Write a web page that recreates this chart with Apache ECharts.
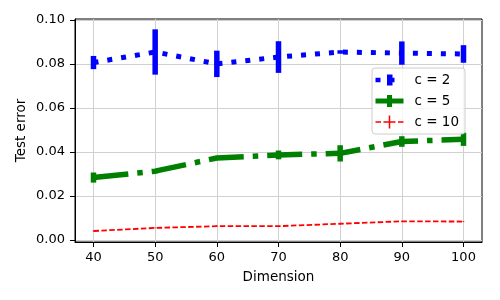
<!DOCTYPE html>
<html>
<head>
<meta charset="utf-8">
<script src="https://cdn.jsdelivr.net/npm/echarts@6/dist/echarts.min.js"></script>
<style>
html,body{margin:0;padding:0;background:#fff;}
#chart{width:500px;height:300px;}
</style>
</head>
<body>
<div id="chart"></div>
<script>
const dims = [40, 50, 60, 70, 80, 90, 100];
const c2Mean = [0.0807, 0.0855, 0.0801, 0.0832, 0.0855, 0.0850, 0.0846];
const c2Err  = [0.0030, 0.0103, 0.0060, 0.0072, 0.0008, 0.0053, 0.0040];
const c5Mean = [0.0284, 0.0313, 0.0373, 0.0387, 0.0394, 0.0448, 0.0458];
const c5Err  = [0.0023, 0.0010, 0.0004, 0.0020, 0.0037, 0.0024, 0.0030];
const c10Mean = [0.0041, 0.0055, 0.0063, 0.0063, 0.0074, 0.0085, 0.0084];
const c10Err  = [0.0002, 0.0002, 0.0002, 0.0002, 0.0002, 0.0002, 0.0002];
const xTicks = [40, 50, 60, 70, 80, 90, 100];
const yTicks = [0, 0.02, 0.04, 0.06, 0.08, 0.10];
const seriesNames = ['c = 2', 'c = 5', 'c = 10'];
const colors = ['#0000ff', '#008000', '#ff0000'];

const font = 'DejaVu Sans';

function pairs(xs, ys) { return xs.map((x, i) => [x, ys[i]]); }
function errData(xs, ys, es) { return xs.map((x, i) => [x, ys[i] - es[i], ys[i] + es[i]]); }

function errSeries(name, data, color, width) {
  return {
    name: name + ' err',
    type: 'custom',
    data: data,
    encode: { x: 0, y: [1, 2] },
    silent: true,
    z: 3,
    renderItem: function (params, api) {
      const p1 = api.coord([api.value(0), api.value(1)]);
      const p2 = api.coord([api.value(0), api.value(2)]);
      return {
        type: 'line',
        shape: { x1: p1[0], y1: p1[1], x2: p2[0], y2: p2[1] },
        style: { stroke: color, lineWidth: width, lineCap: 'butt' }
      };
    }
  };
}

const degen = ' M0 0 L0 0 M28 13 L28 13';
const iconBlue = 'path://M0 4.2 L5 4.2 L5 8.8 L0 8.8 Z M11.5 1 L17 1 L17 12 L11.5 12 Z M17 4.2 L19 4.2 L19 8.8 L17 8.8 Z' + degen;
const iconGreen = 'path://M0 4 L28 4 L28 9 L0 9 Z M11.5 0.5 L16.5 0.5 L16.5 4 L11.5 4 Z M11.5 9 L16.5 9 L16.5 12.5 L11.5 12.5 Z' + degen;
const iconRed = 'path://M0 5.8 L5.5 5.8 L5.5 7.2 L0 7.2 Z M8 5.8 L13.25 5.8 L13.25 7.2 L8 7.2 Z M13.25 0 L14.75 0 L14.75 13 L13.25 13 Z M14.75 5.8 L20 5.8 L20 7.2 L14.75 7.2 Z M22.5 5.8 L28 5.8 L28 7.2 L22.5 7.2 Z' + degen;

const chart = echarts.init(document.getElementById('chart'), null, { renderer: 'canvas' });
chart.setOption({
  animation: false,
  backgroundColor: '#ffffff',
  textStyle: { fontFamily: font },
  grid: {
    left: 75, right: 18, top: 19, bottom: 58,
    show: true, borderColor: '#000', borderWidth: 1, backgroundColor: 'transparent'
  },
  xAxis: {
    type: 'value', min: 37, max: 103,
    name: 'Dimension', nameLocation: 'middle', nameGap: 28, nameMoveOverlap: false,
    nameTextStyle: { fontFamily: font, fontSize: 13.5, color: '#000' },
    axisLine: { show: true, onZero: false, lineStyle: { color: '#000', width: 1 } },
    axisTick: { show: true, length: 5, lineStyle: { color: '#000', width: 1 }, customValues: xTicks },
    axisLabel: { margin: 9, fontFamily: font, fontSize: 13, color: '#000', customValues: xTicks },
    splitLine: { show: true, lineStyle: { color: '#d0d0d0', width: 1 } }
  },
  yAxis: {
    type: 'value', min: -0.0009, max: 0.1005,
    name: 'Test error', nameLocation: 'middle', nameGap: 47, nameRotate: 90, nameMoveOverlap: false,
    nameTextStyle: { fontFamily: font, fontSize: 13.5, color: '#000' },
    axisLine: { show: true, onZero: false, lineStyle: { color: '#000', width: 1 } },
    axisTick: { show: true, length: 5, lineStyle: { color: '#000', width: 1 }, customValues: yTicks },
    axisLabel: { margin: 10, fontFamily: font, fontSize: 13, color: '#000', customValues: yTicks,
      formatter: v => v.toFixed(2) },
    splitLine: { show: true, lineStyle: { color: '#d0d0d0', width: 1 } }
  },
  legend: {
    orient: 'vertical', left: 372, top: 68,
    padding: [5, 6, 5, 3.5],
    itemWidth: 28, itemHeight: 13, itemGap: 7,
    backgroundColor: 'rgba(255,255,255,0.8)', borderColor: '#cccccc', borderWidth: 1, borderRadius: 3,
    itemStyle: { borderWidth: 0 },
    textStyle: { fontFamily: font, fontSize: 13.5, color: '#000', padding: [0, 0, 0, 6] },
    data: [
      { name: seriesNames[0], icon: iconBlue },
      { name: seriesNames[1], icon: iconGreen },
      { name: seriesNames[2], icon: iconRed }
    ],
    z: 10
  },
  series: [
    {
      name: seriesNames[0], type: 'line', data: pairs(dims, c2Mean), showSymbol: false, symbol: 'none',
      color: colors[0], itemStyle: { color: colors[0] },
      lineStyle: { color: colors[0], width: 5, type: [5, 9], cap: 'butt' }, z: 2
    },
    {
      name: seriesNames[1], type: 'line', data: pairs(dims, c5Mean), showSymbol: false, symbol: 'none',
      color: colors[1], itemStyle: { color: colors[1] },
      lineStyle: { color: colors[1], width: 5.5, type: [35, 9, 5.5, 9], cap: 'butt' }, z: 2
    },
    {
      name: seriesNames[2], type: 'line', data: pairs(dims, c10Mean), showSymbol: false, symbol: 'none',
      color: colors[2], itemStyle: { color: colors[2] },
      lineStyle: { color: colors[2], width: 1.8, type: [5.5, 2.4], cap: 'butt' }, z: 2
    },
    errSeries(seriesNames[0], errData(dims, c2Mean, c2Err), colors[0], 5.5),
    errSeries(seriesNames[1], errData(dims, c5Mean, c5Err), colors[1], 5.5),
    errSeries(seriesNames[2], errData(dims, c10Mean, c10Err), colors[2], 1.5)
  ]
});
</script>
</body>
</html>
